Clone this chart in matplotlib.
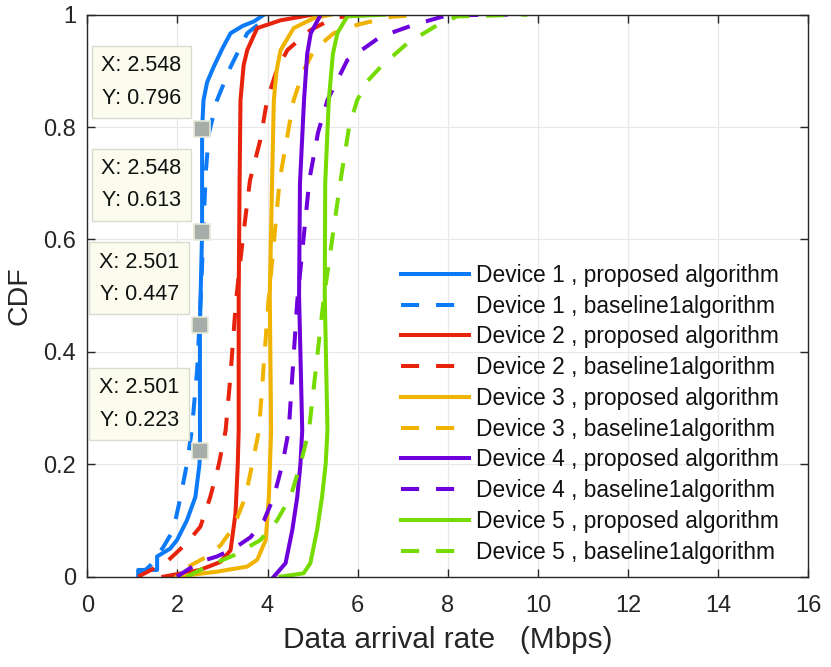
import matplotlib
matplotlib.use("Agg")
import matplotlib.pyplot as plt

plt.rcParams['font.family'] = ['Liberation Sans', 'DejaVu Sans']

# ---- data: x values at given CDF levels ----
d1_prop_x = [1.13, 1.13, 1.55, 1.55, 1.84, 1.99, 2.21, 2.40, 2.49, 2.501, 2.50, 2.548, 2.548, 2.58, 2.66, 2.81, 3.00, 3.18, 3.45, 3.70, 3.92]
d1_prop_y = [0.0, 0.012, 0.012, 0.036, 0.05, 0.065, 0.10, 0.142, 0.20, 0.223, 0.447, 0.613, 0.796, 0.848, 0.88, 0.908, 0.94, 0.967, 0.98, 0.988, 1.0]
d1_base_x = [1.13, 1.40, 1.69, 1.91, 2.07, 2.21, 2.32, 2.44, 2.52, 2.58, 2.63, 2.70, 2.88, 3.18, 3.55, 4.07]
d1_base_y = [0.0, 0.02, 0.053, 0.083, 0.142, 0.20, 0.26, 0.37, 0.50, 0.62, 0.72, 0.789, 0.848, 0.907, 0.967, 1.0]

d2_prop_x = [1.69, 2.50, 2.95, 3.18, 3.29, 3.34, 3.36, 3.36, 3.38, 3.40, 3.47, 3.55, 3.77, 4.29, 5.00]
d2_prop_y = [0.0, 0.012, 0.026, 0.047, 0.113, 0.20, 0.26, 0.50, 0.70, 0.848, 0.91, 0.937, 0.976, 0.99, 1.0]
d2_base_x = [1.13, 1.77, 2.21, 2.51, 2.73, 2.92, 3.07, 3.17, 3.30, 3.45, 3.61, 3.84, 3.99, 4.20, 4.44, 4.96, 5.47, 6.00]
d2_base_y = [0.0, 0.027, 0.06, 0.089, 0.142, 0.20, 0.26, 0.35, 0.49, 0.60, 0.705, 0.777, 0.848, 0.90, 0.937, 0.973, 0.994, 1.0]

d3_prop_x = [1.99, 2.88, 3.55, 3.77, 3.96, 4.03, 4.08, 4.05, 4.10, 4.14, 4.20, 4.29, 4.58, 5.03, 5.40]
d3_prop_y = [0.0, 0.009, 0.018, 0.03, 0.065, 0.142, 0.26, 0.50, 0.70, 0.848, 0.90, 0.937, 0.976, 0.994, 1.0]
d3_base_x = [2.25, 2.66, 2.96, 3.25, 3.51, 3.66, 3.81, 4.02, 4.27, 4.58, 4.80, 5.03, 5.47, 5.99, 6.73, 7.40]
d3_base_y = [0.018, 0.036, 0.056, 0.089, 0.142, 0.20, 0.26, 0.49, 0.706, 0.848, 0.90, 0.937, 0.967, 0.982, 0.996, 1.0]

d4_prop_x = [4.14, 4.40, 4.55, 4.66, 4.73, 4.77, 4.70, 4.72, 4.81, 4.88, 4.96, 5.18]
d4_prop_y = [0.0, 0.024, 0.083, 0.142, 0.20, 0.26, 0.50, 0.70, 0.848, 0.93, 0.967, 1.0]
d4_base_x = [1.99, 2.51, 2.88, 3.25, 3.62, 3.92, 4.14, 4.33, 4.47, 4.66, 4.93, 5.12, 5.33, 5.77, 6.51, 7.25, 7.99, 9.33]
d4_base_y = [0.0, 0.027, 0.036, 0.05, 0.07, 0.10, 0.142, 0.20, 0.26, 0.49, 0.707, 0.79, 0.848, 0.919, 0.961, 0.982, 0.999, 1.0]

d5_prop_x = [4.29, 4.80, 4.95, 5.10, 5.21, 5.29, 5.33, 5.27, 5.28, 5.36, 5.45, 5.55, 5.77, 6.60]
d5_prop_y = [0.0, 0.006, 0.024, 0.083, 0.142, 0.20, 0.26, 0.50, 0.70, 0.848, 0.93, 0.967, 0.997, 1.0]
d5_base_x = [2.21, 2.66, 3.25, 3.84, 4.21, 4.51, 4.73, 4.92, 5.24, 5.62, 5.81, 5.99, 6.22, 6.51, 7.10, 7.84, 8.21, 9.77]
d5_base_y = [0.0, 0.018, 0.038, 0.065, 0.10, 0.142, 0.20, 0.26, 0.49, 0.705, 0.80, 0.848, 0.882, 0.907, 0.949, 0.985, 0.997, 1.0]

labels = [
    'Device 1 , proposed algorithm', 'Device 1 , baseline1algorithm',
    'Device 2 , proposed algorithm', 'Device 2 , baseline1algorithm',
    'Device 3 , proposed algorithm', 'Device 3 , baseline1algorithm',
    'Device 4 , proposed algorithm', 'Device 4 , baseline1algorithm',
    'Device 5 , proposed algorithm', 'Device 5 , baseline1algorithm',
]
tip_x = [2.548, 2.548, 2.501, 2.501]
tip_y = [0.796, 0.613, 0.447, 0.223]

x_ticks = [0, 2, 4, 6, 8, 10, 12, 14, 16]
y_ticks = [0, 0.2, 0.4, 0.6, 0.8, 1]
y_ticklabels = ['0', '0.2', '0.4', '0.6', '0.8', '1']

colors = ['#0D7BF7', '#E8230C', '#F0B400', '#6E00DC', '#76DB00']

series = [
    (d1_prop_x, d1_prop_y), (d1_base_x, d1_base_y),
    (d2_prop_x, d2_prop_y), (d2_base_x, d2_base_y),
    (d3_prop_x, d3_prop_y), (d3_base_x, d3_base_y),
    (d4_prop_x, d4_prop_y), (d4_base_x, d4_base_y),
    (d5_prop_x, d5_prop_y), (d5_base_x, d5_base_y),
]

fig = plt.figure(figsize=(8.31, 6.67), dpi=100)
ax = fig.add_axes([0.105, 0.1354, 0.8677, 0.8426])

lw = 2.9
for i, ((xs, ys), lab) in enumerate(zip(series, labels)):
    c = colors[i // 2]
    if i % 2 == 0:
        ax.plot(xs, ys, color=c, lw=lw, label=lab, solid_joinstyle='round')
    else:
        ax.plot(xs, ys, color=c, lw=lw, label=lab, linestyle=(0, (4.5, 4.2)))

# data tips
for tx, ty in zip(tip_x, tip_y):
    ax.plot([tx], [ty], marker='s', ms=11, mfc='#A6AEAA', mec='#E8EAD8', mew=1.2, zorder=6)
    ax.annotate(f'X: {tx:.3f}\nY: {ty:.3f}', xy=(tx, ty), xytext=(-14.9, 14.9),
                textcoords='offset points', ha='right', va='bottom',
                fontsize=15.5, color='#111111', linespacing=1.7,
                bbox=dict(boxstyle='square,pad=0.45', fc='#FBFBEE', ec='#D8DBCF', lw=1.0),
                zorder=7)

ax.set_xlim(0, 16)
ax.set_ylim(0, 1)
ax.set_xticks(x_ticks)
ax.set_xticklabels([str(t) for t in x_ticks])
ax.set_yticks(y_ticks)
ax.set_yticklabels(y_ticklabels)
ax.grid(True, color='#E8E8E8', lw=0.9)
ax.set_axisbelow(True)
ax.tick_params(direction='in', length=6, width=1, colors='#262626', labelsize=17,
               top=True, right=True, pad=8)
ax.tick_params(axis='x', pad=13)
for s in ax.spines.values():
    s.set_color('#262626')
    s.set_linewidth(1.0)

ax.set_xlabel('Data arrival rate   (Mbps)', fontsize=21.4, color='#262626', labelpad=7)
ax.set_ylabel('CDF', fontsize=20.5, color='#262626', labelpad=8)

leg = ax.legend(loc='center left', bbox_to_anchor=(0.435, 0.29), frameon=False,
                fontsize=16.4, handlelength=3.0, handletextpad=0.3, labelspacing=0.34,
                borderpad=0, borderaxespad=0)
for t in leg.get_texts():
    t.set_color('#111111')

fig.savefig('out.png', dpi=100)
